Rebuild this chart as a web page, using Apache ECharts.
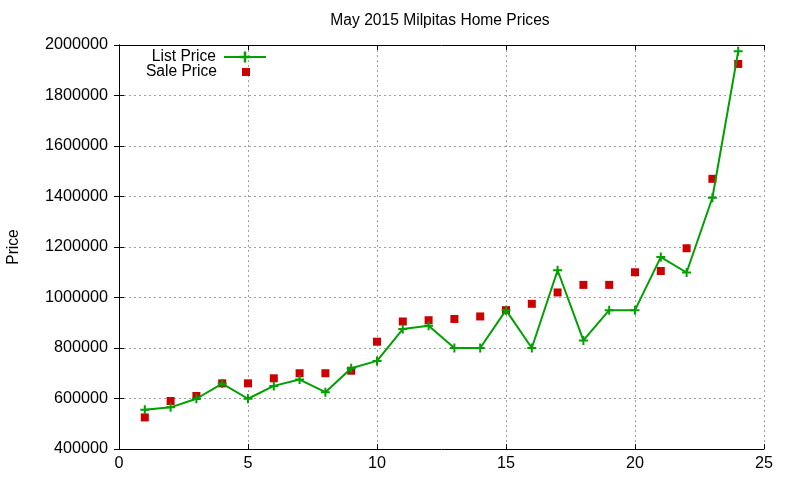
<!DOCTYPE html>
<html>
<head>
<meta charset="utf-8">
<script src="https://cdn.jsdelivr.net/npm/echarts@6/dist/echarts.min.js"></script>
<style>html,body{margin:0;padding:0;background:#fff;}#c{width:800px;height:480px;}</style>
</head>
<body>
<div id="c"></div>
<script>
const houses = [1,2,3,4,5,6,7,8,9,10,11,12,13,14,15,16,17,18,19,20,21,22,23,24];
const listPrice = [555000,565000,599000,659000,599000,650000,675000,625000,720000,749000,875000,888000,800000,800000,950000,800000,1108000,830000,950000,950000,1160000,1099000,1395000,1975000];
const salePrice = [525000,590000,610000,660000,660000,680000,700000,700000,710000,825000,905000,910000,915000,925000,950000,975000,1020000,1050000,1050000,1100000,1105000,1195000,1470000,1925000];
const xTicks = [0,5,10,15,20,25];
const yTicks = [400000,600000,800000,1000000,1200000,1400000,1600000,1800000,2000000];

const FONT = '"Liberation Sans", Arial, sans-serif';
const chart = echarts.init(document.getElementById('c'), null, {renderer: 'canvas'});
const plus = 'path://M3.5,0H5.5V3.5H9V5.5H5.5V9H3.5V5.5H0V3.5H3.5Z';
const gridLine = {show: true, lineStyle: {color: '#a0a0a0', type: [2, 3], width: 1}};
const axLine = {show: true, lineStyle: {color: '#000', width: 1}};
const tick = {show: true, inside: true, length: 5, lineStyle: {color: '#000', width: 1}};

chart.setOption({
  animation: false,
  backgroundColor: '#fff',
  title: {
    text: 'May 2015 Milpitas Home Prices',
    left: 440, top: 13, textAlign: 'center', padding: 0,
    textStyle: {fontFamily: FONT, fontSize: 15.6, fontWeight: 'normal', color: '#000'}
  },
  legend: [
    {
      data: ['List Price'], orient: 'vertical', align: 'right',
      right: 533, top: 49, padding: 0, itemWidth: 42, itemHeight: 14,
      textStyle: {fontFamily: FONT, fontSize: 15.6, color: '#000', padding: [0, 3, 0, 0]}
    },
    {
      data: ['Sale Price'], orient: 'vertical', align: 'right',
      right: 550, top: 64, padding: 0, itemWidth: 8, itemHeight: 8,
      textStyle: {fontFamily: FONT, fontSize: 15.6, color: '#000', padding: [0, 20, 0, 0]}
    }
  ],
  grid: {left: 119, right: 36, top: 45, bottom: 31, containLabel: false, outerBoundsMode: 'none'},
  xAxis: [
    {
      type: 'value', min: 0, max: 25, interval: 5,
      axisLine: axLine, axisTick: tick, splitLine: gridLine,
      axisLabel: {fontFamily: FONT, fontSize: 16.2, color: '#000', margin: 7,
        formatter: v => xTicks.includes(v) ? String(v) : ''}
    },
    {
      type: 'value', position: 'top', min: 0, max: 25, interval: 5,
      axisLine: axLine, axisTick: tick, splitLine: {show: false}, axisLabel: {show: false}
    }
  ],
  yAxis: [
    {
      type: 'value', min: 400000, max: 2000000, interval: 200000,
      name: 'Price', nameLocation: 'middle', nameGap: 97, nameRotate: 90,
      nameTextStyle: {fontFamily: FONT, fontSize: 15.6, color: '#000'},
      axisLine: axLine, axisTick: tick, splitLine: gridLine,
      axisLabel: {fontFamily: FONT, fontSize: 16.2, color: '#000', margin: 11,
        formatter: v => yTicks.includes(v) ? String(v) : ''}
    },
    {
      type: 'value', position: 'right', min: 400000, max: 2000000, interval: 200000,
      axisLine: axLine, axisTick: tick, splitLine: {show: false}, axisLabel: {show: false}
    }
  ],
  series: [
    {
      name: 'List Price', type: 'line',
      data: houses.map((h, i) => [h, listPrice[i]]),
      symbol: plus, symbolSize: 9, showSymbol: true,
      lineStyle: {color: '#00a000', width: 2},
      itemStyle: {color: '#00a000'}
    },
    {
      name: 'Sale Price', type: 'scatter',
      data: houses.map((h, i) => [h, salePrice[i]]),
      symbol: 'rect', symbolSize: 8,
      itemStyle: {color: '#cc0000', opacity: 1}
    }
  ]
});
</script>
</body>
</html>
